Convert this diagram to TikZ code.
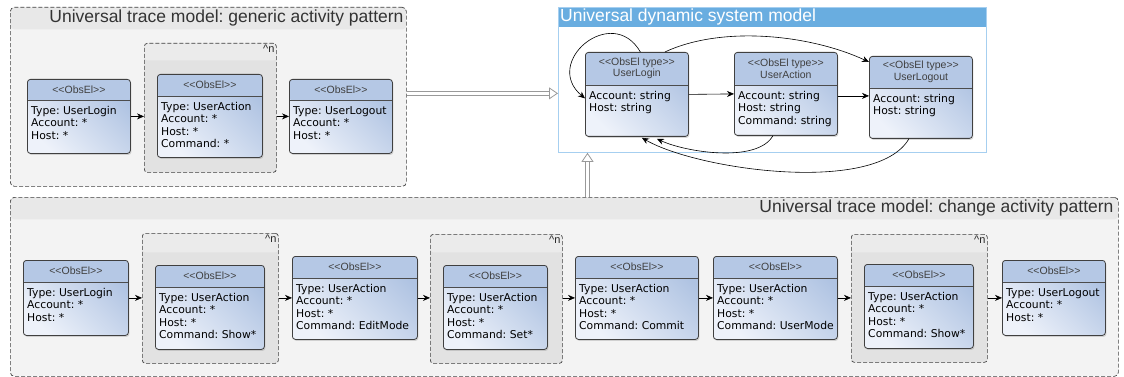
\documentclass[tikz,border=0pt]{standalone}
\usepackage{fontspec}
\usetikzlibrary{arrows.meta,shadows}
\newfontfamily\bodyfont{DejaVu Sans}
\newfontfamily\labelfont{Liberation Sans}
\definecolor{hdrblue}{HTML}{B5C8E5}
\definecolor{bodydark}{HTML}{AFC3E2}
\definecolor{bodylight}{HTML}{EEF2FA}
\definecolor{panelbg}{HTML}{F3F3F3}
\definecolor{panelband}{HTML}{E8E8E8}
\definecolor{loopbg}{HTML}{E2E2E2}
\definecolor{loopband}{HTML}{EBEBEB}
\definecolor{dynband}{HTML}{69ADE0}
\definecolor{dynline}{HTML}{A6CFF0}
\frenchspacing
\newcommand\stereo[1]{<\kern0pt<#1>\kern0pt>}
% one observed element: name, north west corner, width, height, header height, header, attributes
\newcommand\obsel[7]{%
  \node[obsbox=#5, minimum width=#3pt, minimum height=#4pt, anchor=north west] (#1) at (#2) {};
  \node[stereo] at ([yshift=-#5/2]#1.north) {#6};
  \node[attrs] at ([xshift=4pt, yshift=-#5-6pt]#1.north west) {#7};}
\begin{document}
\begin{tikzpicture}[x=1pt, y=1pt,
    obsbox/.style={draw=black!75, line width=.8pt, rounded corners=3pt, inner sep=0pt,
      top color=bodydark, bottom color=bodylight, shading angle=-45,
      drop shadow={shadow xshift=1pt, shadow yshift=-1.5pt, opacity=.3},
      path picture={
        \fill[hdrblue] (path picture bounding box.north west) rectangle ([yshift=-#1]path picture bounding box.north east);
        \draw[black!70, line width=.8pt] ([yshift=-#1]path picture bounding box.north west) -- ([yshift=-#1]path picture bounding box.north east);}},
    stereo/.style={font=\labelfont\fontsize{10.5}{11.5}\selectfont, text=black!75, align=center, inner sep=0pt},
    attrs/.style={font=\bodyfont\fontsize{10.8}{12.5}\selectfont, align=left, anchor=north west, inner sep=0pt},
    panel/.style={draw=black!75, line width=.7pt, dash pattern=on 4pt off 2pt, rounded corners=4pt,
      fill=panelbg, inner sep=0pt, anchor=north west,
      path picture={\fill[panelband] (path picture bounding box.north west) rectangle ([yshift=-#1]path picture bounding box.north east);}},
    loopbox/.style={draw=black!75, line width=.7pt, dash pattern=on 4pt off 2pt, rounded corners=3pt,
      fill=loopbg, inner sep=0pt, anchor=north west,
      path picture={\fill[loopband] (path picture bounding box.north west) rectangle ([yshift=-#1]path picture bounding box.north east);}},
    dynpanel/.style={draw=dynline, line width=.8pt, fill=white, inner sep=0pt, anchor=north west,
      path picture={\fill[dynband] (path picture bounding box.north west) rectangle ([yshift=-20pt]path picture bounding box.north east);}},
    title/.style={font=\labelfont\fontsize{17.5}{20}\selectfont, text=black!80, inner sep=0pt},
    loopmark/.style={font=\labelfont\fontsize{11}{12}\selectfont, text=black!85, inner sep=0pt, anchor=north east},
    flow/.style={-{Stealth[length=7pt, width=6pt]}, line width=.6pt},
    hollow/.style={draw=black!40, double=white, double distance=3pt, line width=.8pt,
      -{Triangle[open, length=9pt, width=12pt]}}]
  \useasboundingbox (0,0) rectangle (1124,-377);

  % panels
  \node[panel=22pt, minimum width=396pt, minimum height=179pt] (gen) at (10,-7) {};
  \node[title, anchor=east] at ([xshift=-3pt, yshift=-11pt]gen.north east) {Universal trace model: generic activity pattern};
  \node[dynpanel, minimum width=428pt, minimum height=145pt] (dyn) at (558,-7) {};
  \node[title, text=white, anchor=west] at ([xshift=2pt, yshift=-10pt]dyn.north west) {Universal dynamic system model};
  \node[panel=22pt, minimum width=1108pt, minimum height=179pt] (chg) at (10,-197) {};
  \node[title, anchor=east] at ([xshift=-5pt, yshift=-11pt]chg.north east) {Universal trace model: change activity pattern};

  % repeated blocks
  \node[loopbox=17pt, minimum width=132pt, minimum height=129pt] (gl) at (144,-43) {};
  \node[loopbox=19pt, minimum width=136pt, minimum height=130pt] (l1) at (142,-233) {};
  \node[loopbox=18pt, minimum width=132pt, minimum height=129pt] (l2) at (430,-234) {};
  \node[loopbox=18pt, minimum width=136pt, minimum height=128pt] (l3) at (851,-234) {};
  \foreach \l in {gl,l1,l2,l3}
    \node[loopmark] at ([xshift=-2pt, yshift=-2pt]\l.north east) {\textasciicircum n};

  % generic activity pattern
  \obsel{g1}{27,-79}{103}{74}{21pt}{\stereo{ObsEl}}{Type: UserLogin\\Account: *\\Host: *}
  \obsel{g2}{157,-74}{105}{83}{22pt}{\stereo{ObsEl}}{Type: UserAction\\Account: *\\Host: *\\Command: *}
  \obsel{g3}{289,-79}{103}{74}{21pt}{\stereo{ObsEl}}{Type: UserLogout\\Account: *\\Host: *}

  % dynamic system model
  \obsel{t1}{585,-52}{103}{84}{33pt}{\stereo{ObsEl type}\\UserLogin}{Account: string\\Host: string}
  \obsel{t2}{734,-52}{103}{83}{33pt}{\stereo{ObsEl type}\\UserAction}{Account: string\\Host: string\\Command: string}
  \obsel{t3}{869,-56}{103}{82}{32pt}{\stereo{ObsEl type}\\UserLogout}{Account: string\\Host: string}

  % change activity pattern
  \obsel{c1}{23,-260}{105}{75}{22pt}{\stereo{ObsEl}}{Type: UserLogin\\Account: *\\Host: *}
  \obsel{c2}{155,-265}{109}{84}{22pt}{\stereo{ObsEl}}{Type: UserAction\\Account: *\\Host: *\\Command: Show*}
  \obsel{c3}{292,-256}{125}{83}{22pt}{\stereo{ObsEl}}{Type: UserAction\\Account: *\\Host: *\\Command: EditMode}
  \obsel{c4}{443,-265}{104}{84}{22pt}{\stereo{ObsEl}}{Type: UserAction\\Account: *\\Host: *\\Command: Set*}
  \obsel{c5}{575,-256}{123}{83}{22pt}{\stereo{ObsEl}}{Type: UserAction\\Account: *\\Host: *\\Command: Commit}
  \obsel{c6}{713,-256}{124}{83}{22pt}{\stereo{ObsEl}}{Type: UserAction\\Account: *\\Host: *\\Command: UserMode}
  \obsel{c7}{864,-264}{109}{84}{22pt}{\stereo{ObsEl}}{Type: UserAction\\Account: *\\Host: *\\Command: Show*}
  \obsel{c8}{1002,-260}{103}{75}{22pt}{\stereo{ObsEl}}{Type: UserLogout\\Account: *\\Host: *}

  % connectors
  \draw[flow] (g1.east) -- (g1.east -| gl.west);
  \draw[flow] (g1.east -| gl.east) -- (g1.east -| g3.west);
  \draw[flow] (c1.east) -- (c1.east -| l1.west);
  \draw[flow] (c3.west -| l1.east) -- (c3.west);
  \draw[flow] (c3.east) -- (c3.east -| l2.west);
  \draw[flow] (c5.west -| l2.east) -- (c5.west);
  \draw[flow] (c5.east) -- (c6.west);
  \draw[flow] (c6.east) -- (c6.east -| l3.west);
  \draw[flow] (c8.west -| l3.east) -- (c8.west);

  \draw[flow] ([xshift=3.5pt]t1.north) to[out=120, in=140, looseness=2] ([yshift=-4pt]t1.west);
  \draw[flow] ([xshift=28pt]t1.north) to[out=25, in=155, looseness=.8] ([yshift=-6pt]t3.north west);
  \draw[flow] (t1.east) -- (t2.west);
  \draw[flow] ([yshift=-2pt]t2.east) -- ([yshift=-2pt]t2.east -| t3.west);
  \draw[flow] ([xshift=-13pt]t2.south) to[out=-120, in=-25, looseness=.7] ([xshift=20pt, yshift=-2pt]t1.south);
  \draw[flow] ([xshift=-12pt]t3.south) to[out=-120, in=-30, looseness=.62] ([xshift=5pt, yshift=-1pt]t1.south);

  \coordinate (up) at ([xshift=29.5pt]dyn.south west);
  \draw[hollow] ([yshift=3.5pt]gen.east) -- ([yshift=3.5pt]gen.east -| dyn.west);
  \draw[hollow] (up |- chg.north) -- (up);
\end{tikzpicture}
\end{document}
